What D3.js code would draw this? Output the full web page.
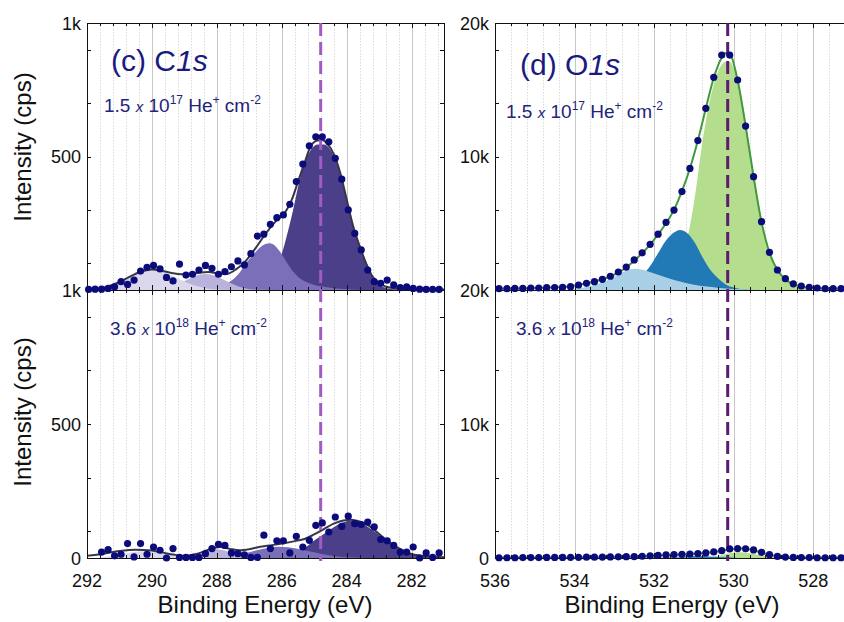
<!DOCTYPE html>
<html>
<head>
<meta charset="utf-8">
<script src="https://cdn.jsdelivr.net/npm/d3@7"></script>
<style>
  body { margin: 0; background: #fff; }
  text { font-family: Arial, "Liberation Sans", sans-serif; }
</style>
</head>
<body>
<svg id="chart" width="844" height="622"></svg>
<script>
// ---- data: [binding energy (eV), intensity (cps)] ----

// C1s, 1.5e17 He+/cm2
const c1sTopPoints = [[291.95,2],[291.75,3],[291.55,3],[291.35,6],[291.15,12],[290.95,31],[290.75,21],[290.55,37],[290.35,71],[290.15,85],[289.95,92],[289.75,79],[289.55,47],[289.35,34],[289.15,97],[288.95,56],[288.75,59],[288.55,75],[288.35,92],[288.15,81],[287.95,59],[287.75,69],[287.55,87],[287.35,109],[287.15,94],[286.95,136],[286.75,202],[286.55,209],[286.35,246],[286.15,271],[285.95,281],[285.75,321],[285.55,406],[285.35,472],[285.15,540],[284.95,574],[284.75,574],[284.55,555],[284.35,493],[284.15,415],[283.95,300],[283.75,212],[283.55,150],[283.35,75],[283.15,31],[282.95,25],[282.75,37],[282.55,19],[282.35,9],[282.15,12],[281.95,6],[281.75,3],[281.55,2],[281.35,2],[281.15,2]];
const c1sTopFit = [[292,2],[291.5,8],[291.0,30],[290.6,55],[290.3,70],[290.0,77],[289.7,72],[289.4,64],[289.1,59],[288.8,60],[288.5,66],[288.25,67],[288.0,63],[287.7,60],[287.4,78],[287.1,110],[286.8,158],[286.5,210],[286.2,255],[285.9,290],[285.7,335],[285.5,405],[285.3,475],[285.1,540],[284.9,560],[284.75,562],[284.6,548],[284.4,510],[284.2,440],[284.0,340],[283.8,240],[283.6,165],[283.4,100],[283.2,50],[283.0,25],[282.8,13],[282.5,6],[282.0,3],[281,2]];
const c1sTopPeakA = [[292.0,2],[291.75,5],[291.5,11],[291.25,20],[291.0,32],[290.75,46],[290.5,60],[290.25,71],[290.0,75],[289.75,71],[289.5,60],[289.25,46],[289.0,32],[288.75,20],[288.5,11],[288.25,5],[288.0,2],[287.5,0]];
const c1sTopPeakB = [[290.1,1],[289.85,2],[289.6,6],[289.35,14],[289.1,27],[288.85,42],[288.6,55],[288.35,60],[288.1,55],[287.85,42],[287.6,27],[287.35,14],[287.1,6],[286.85,2],[286.6,1],[286.3,0]];
const c1sTopPeakC = [[288.6,2],[288.2,6],[287.9,15],[287.6,31],[287.3,65],[287.1,100],[286.9,128],[286.7,156],[286.5,172],[286.37,175],[286.2,165],[286.05,143],[285.85,105],[285.65,69],[285.4,40],[285.15,25],[284.9,16],[284.7,12],[284.4,7],[284.0,3],[283.5,0]];
const c1sTopPeakD = [[287.0,3],[286.6,20],[286.3,75],[286.0,135],[285.85,200],[285.65,300],[285.45,410],[285.25,490],[285.1,525],[284.9,545],[284.7,545],[284.5,525],[284.33,481],[284.13,406],[283.92,293],[283.72,206],[283.52,143],[283.31,81],[283.1,31],[282.8,8],[282.5,2],[282.0,0]];

// C1s, 3.6e18 He+/cm2
const c1sBotPoints = [[291.55,22],[291.35,31],[291.15,8],[290.95,14],[290.75,54],[290.55,4],[290.35,54],[290.15,14],[289.95,41],[289.75,29],[289.55,0],[289.35,35],[289.15,2],[288.95,2],[288.75,2],[288.55,2],[288.35,16],[288.15,35],[287.95,51],[287.75,47],[287.55,19],[287.35,16],[287.15,12],[286.95,2],[286.75,2],[286.55,85],[286.35,35],[286.15,64],[285.95,64],[285.75,19],[285.55,81],[285.35,41],[285.15,66],[284.95,122],[284.75,131],[284.55,97],[284.35,153],[284.15,118],[283.95,156],[283.75,128],[283.55,125],[283.35,134],[283.15,116],[282.95,69],[282.75,64],[282.55,47],[282.35,22],[282.15,22],[281.95,41],[281.75,0],[281.55,19],[281.35,2],[281.15,19]];
const c1sBotFit = [[292,8],[291.5,16],[291.0,26],[290.5,31],[290.0,28],[289.7,21],[289.3,12],[288.95,8],[288.6,16],[288.2,33],[287.9,41],[287.6,34],[287.3,29],[287.0,33],[286.7,41],[286.3,48],[285.9,56],[285.6,63],[285.3,71],[285.0,88],[284.7,108],[284.4,128],[284.1,140],[283.85,143],[283.6,136],[283.33,122],[283.1,100],[282.82,72],[282.55,48],[282.31,31],[282.05,17],[281.8,10],[281.4,5],[281.0,3]];
const c1sBotPeakA = [[291.6,2],[291.2,8],[290.8,17],[290.4,24],[290.1,25],[289.8,20],[289.4,10],[289.0,3],[288.6,0]];
const c1sBotPeakB = [[289.1,1],[288.8,6],[288.5,16],[288.25,28],[288.0,33],[287.75,28],[287.5,16],[287.2,6],[286.9,1]];
const c1sBotPeakC = [[288.0,2],[287.6,7],[287.2,16],[286.8,28],[286.4,38],[286.1,42],[285.8,40],[285.4,32],[285.0,21],[284.6,11],[284.2,5],[283.8,2],[283.3,0]];
const c1sBotPeakD = [[286.2,2],[285.8,10],[285.5,24],[285.25,41],[285.0,65],[284.7,90],[284.4,115],[284.1,133],[283.85,140],[283.6,136],[283.4,120],[283.1,95],[282.8,68],[282.5,42],[282.2,22],[281.8,9],[281.2,2]];

// O1s, 1.5e17 He+/cm2
const o1sTopPoints = [[535.9,100],[535.7,100],[535.5,120],[535.3,120],[535.1,150],[534.9,150],[534.7,180],[534.5,180],[534.3,200],[534.1,250],[533.9,375],[533.7,500],[533.5,624],[533.3,800],[533.1,1030],[532.9,1350],[532.7,1720],[532.5,2250],[532.3,2780],[532.1,3420],[531.9,4180],[531.7,5070],[531.5,5990],[531.3,7370],[531.1,9110],[530.9,11190],[530.7,13610],[530.5,15930],[530.3,17600],[530.1,17600],[529.9,15730],[529.7,12280],[529.5,8490],[529.3,5120],[529.1,2820],[528.9,1500],[528.7,850],[528.5,460],[528.3,300],[528.1,200],[527.9,150],[527.7,100],[527.5,100],[527.3,100],[527.1,100]];
const o1sTopFit = [[536,100],[535,150],[534.5,200],[534.1,280],[533.7,500],[533.3,800],[532.9,1300],[532.5,2200],[532.1,3400],[531.7,5000],[531.5,6000],[531.3,7400],[531.1,9100],[530.9,11200],[530.7,13600],[530.5,15900],[530.3,17400],[530.2,17750],[530.1,17700],[529.9,15700],[529.7,12300],[529.5,8500],[529.3,5100],[529.1,2800],[528.9,1500],[528.7,800],[528.5,420],[528.3,250],[528,150],[527,100]];
const o1sTopLightBlue = [[534.4,0],[534.0,80],[533.6,300],[533.2,700],[532.9,1150],[532.6,1550],[532.45,1600],[532.2,1450],[531.9,1150],[531.6,850],[531.3,600],[531.0,400],[530.6,250],[530.2,120],[529.8,50],[529.4,0]];
const o1sTopDarkBlue = [[533.2,60],[532.9,200],[532.6,550],[532.3,1100],[532.1,1800],[531.9,2750],[531.7,3700],[531.5,4300],[531.35,4500],[531.2,4350],[531.0,3650],[530.8,2550],[530.6,1550],[530.4,900],[530.2,420],[530.0,180],[529.8,50],[529.5,0]];
const o1sTopGreen = [[532.2,100],[531.8,400],[531.5,1200],[531.3,2600],[531.1,4800],[530.95,7500],[530.8,10800],[530.6,14200],[530.4,16300],[530.2,17100],[530.1,17100],[529.95,16200],[529.8,14400],[529.6,10700],[529.4,6800],[529.2,3900],[529.0,2100],[528.8,1100],[528.6,550],[528.4,250],[528.2,100],[527.9,0]];

// O1s, 3.6e18 He+/cm2
const o1sBotPoints = [[535.9,20],[535.7,20],[535.5,20],[535.3,30],[535.1,30],[534.9,30],[534.7,40],[534.5,40],[534.3,40],[534.1,50],[533.9,50],[533.7,60],[533.5,60],[533.3,70],[533.1,80],[532.9,90],[532.7,100],[532.5,110],[532.3,130],[532.1,160],[531.9,200],[531.7,230],[531.5,260],[531.3,275],[531.1,300],[530.9,330],[530.7,380],[530.5,450],[530.3,550],[530.1,680],[529.9,700],[529.7,690],[529.5,600],[529.3,420],[529.1,250],[528.9,120],[528.7,70],[528.5,40],[528.3,30],[528.1,30],[527.9,20],[527.7,20],[527.5,20],[527.3,20],[527.1,20]];
const o1sBotFit = [[536,20],[534,40],[532.5,110],[531.5,250],[531,310],[530.5,450],[530.1,640],[529.8,700],[529.5,580],[529.2,320],[528.9,130],[528.5,40],[527,20]];
const o1sBotLightBlue = [[533.5,0],[532.8,40],[532.2,80],[531.6,60],[531.0,20],[530.5,0]];
const o1sBotDarkBlue = [[532.0,0],[531.5,80],[531.0,150],[530.6,120],[530.2,50],[529.9,0]];
const o1sBotGreen = [[530.8,0],[530.4,150],[530.1,350],[529.85,420],[529.6,350],[529.3,180],[529.0,50],[528.7,0]];

// ticks / labels
const cEnergyTicks = [292, 290, 288, 286, 284, 282];
const oEnergyTicks = [536, 534, 532, 530, 528];
const cIntTicks = [0, 500, 1000], cIntLabels = ["0", "500", "1k"];
const oIntTicks = [0, 10000, 20000], oIntLabels = ["0", "10k", "20k"];
const cMinorY = [100, 300, 500, 700, 900];
const oMinorY = [2000, 6000, 10000, 14000, 18000];
const cRefEnergy = 284.8, oRefEnergy = 530.15;

const cColors = ["#4b3f8a", "#7a6fb8", "#b9b2da", "#dbd7ec"];
const oColors = ["#b4de8e", "#2179b5", "#a8cfe5"];

// ---- layout ----
const svg = d3.select("#chart");
const navy = "#0b0b7a";

const xC = d3.scaleLinear().domain([292, 281]).range([87, 444]);
const xO = d3.scaleLinear().domain([536, 527]).range([495, 853]);
const yCTop = d3.scaleLinear().domain([0, 1000]).range([290, 23]);
const yCBot = d3.scaleLinear().domain([0, 1000]).range([558, 290]);
const yOTop = d3.scaleLinear().domain([0, 20000]).range([290, 23]);
const yOBot = d3.scaleLinear().domain([0, 20000]).range([558, 290]);

let clipId = 0;

function drawPanel(p) {
  const [xa, xb] = p.x.range(), [ya, yb] = p.y.range();
  const g = svg.append("g");
  const id = "clip" + (clipId++);
  svg.append("clipPath").attr("id", id).append("rect")
    .attr("x", xa).attr("y", yb).attr("width", xb - xa).attr("height", ya - yb);

  // vertical grid
  const lo = Math.ceil(p.x.domain()[1] * 10), hi = Math.floor(p.x.domain()[0] * 10);
  const grid = d3.range(lo, hi + 1).filter(v => v % 4 === 0).map(v => v / 10);
  g.append("g").attr("clip-path", `url(#${id})`)
    .selectAll("line").data(grid).enter().append("line")
    .attr("x1", d => Math.round(p.x(d)) + 0.5).attr("x2", d => Math.round(p.x(d)) + 0.5)
    .attr("y1", yb).attr("y2", ya)
    .attr("stroke", d => (Math.round(d * 10) % 20 === 0) ? "#c6c6c6" : "#dadada")
    .attr("stroke-dasharray", d => (Math.round(d * 10) % 20 === 0) ? null : "1.5,1.5")
    .attr("stroke-width", 1);

  // component fills
  const area = d3.area().curve(d3.curveMonotoneX)
    .x(d => p.x(d[0])).y0(p.y(0)).y1(d => p.y(d[1]));
  const fills = g.append("g").attr("clip-path", `url(#${id})`);
  p.comps.forEach((c, i) => {
    fills.append("path").datum(c).attr("d", area).attr("fill", p.colors[i]);
  });

  // envelope
  const line = d3.line().curve(d3.curveMonotoneX)
    .x(d => p.x(d[0])).y(d => p.y(d[1]));
  fills.append("path").datum(p.fit).attr("d", line)
    .attr("fill", "none").attr("stroke", p.fitColor).attr("stroke-width", 2);

  // frame
  g.append("rect").attr("x", xa + 0.5).attr("y", yb + 0.5)
    .attr("width", xb - xa).attr("height", ya - yb)
    .attr("fill", "none").attr("stroke", "#111").attr("stroke-width", 1);

  // inward ticks
  const ticks = g.append("g").attr("stroke", "#111").attr("stroke-width", 1);
  p.minorY.concat(p.yTicks).forEach(v => {
    const yy = Math.round(p.y(v)) + 0.5;
    ticks.append("line").attr("x1", xa).attr("x2", xa + 4).attr("y1", yy).attr("y2", yy);
    ticks.append("line").attr("x1", xb - 4).attr("x2", xb).attr("y1", yy).attr("y2", yy);
  });
  grid.forEach(v => {
    const xx = Math.round(p.x(v)) + 0.5;
    const len = (Math.round(v * 10) % 20 === 0) ? 5 : 3;
    ticks.append("line").attr("x1", xx).attr("x2", xx).attr("y1", ya).attr("y2", ya - len);
    ticks.append("line").attr("x1", xx).attr("x2", xx).attr("y1", yb).attr("y2", yb + len);
  });

  // y tick labels
  p.yTicks.forEach((v, i) => {
    if (p.skipZero && v === 0) return;
    g.append("text").attr("x", xa - 6).attr("y", p.y(v) + 6.5)
      .attr("text-anchor", "end").attr("font-size", 18).attr("fill", "#111")
      .text(p.yLabels[i]);
  });

  // x tick labels
  if (p.xLabels) {
    p.xLabels.forEach(v => {
      g.append("text").attr("x", p.x(v)).attr("y", 587)
        .attr("text-anchor", "middle").attr("font-size", 18).attr("fill", "#111")
        .text(v);
    });
  }
  p.g = g;
  return p;
}

function drawPoints(p) {
  svg.append("g").selectAll("circle").data(p.points).enter().append("circle")
    .attr("cx", d => p.x(d[0])).attr("cy", d => p.y(d[1]))
    .attr("r", 3.6).attr("fill", navy);
}

function doseLabel(x, y, mant, expo) {
  const t = svg.append("text").attr("x", x).attr("y", y)
    .attr("font-size", 19).attr("fill", "#23237a");
  t.append("tspan").text(mant + " ");
  t.append("tspan").attr("font-style", "italic").attr("font-size", 15).text("x");
  t.append("tspan").text(" 10");
  t.append("tspan").attr("font-size", 12).attr("dy", -8).text(expo);
  t.append("tspan").attr("dy", 8).text(" He");
  t.append("tspan").attr("font-size", 12).attr("dy", -8).text("+");
  t.append("tspan").attr("dy", 8).text(" cm");
  t.append("tspan").attr("font-size", 12).attr("dy", -8).text("-2");
}

function refLine(x, e, color) {
  svg.append("line")
    .attr("x1", x(e)).attr("x2", x(e)).attr("y1", 23).attr("y2", 561)
    .attr("stroke", color).attr("stroke-width", 3)
    .attr("stroke-dasharray", "13,6");
}

const panels = [
  { x: xC, y: yCTop, comps: [c1sTopPeakD, c1sTopPeakC, c1sTopPeakB, c1sTopPeakA], colors: cColors,
    fit: c1sTopFit, fitColor: "#3a3648", points: c1sTopPoints,
    yTicks: cIntTicks, yLabels: cIntLabels, minorY: cMinorY, skipZero: true },
  { x: xC, y: yCBot, comps: [c1sBotPeakD, c1sBotPeakC, c1sBotPeakB, c1sBotPeakA], colors: cColors,
    fit: c1sBotFit, fitColor: "#3a3648", points: c1sBotPoints,
    yTicks: cIntTicks, yLabels: cIntLabels, minorY: cMinorY, xLabels: cEnergyTicks },
  { x: xO, y: yOTop, comps: [o1sTopGreen, o1sTopDarkBlue, o1sTopLightBlue], colors: oColors,
    fit: o1sTopFit, fitColor: "#3f9a3c", points: o1sTopPoints,
    yTicks: oIntTicks, yLabels: oIntLabels, minorY: oMinorY, skipZero: true },
  { x: xO, y: yOBot, comps: [o1sBotGreen, o1sBotDarkBlue, o1sBotLightBlue], colors: oColors,
    fit: o1sBotFit, fitColor: "#3f9a3c", points: o1sBotPoints,
    yTicks: oIntTicks, yLabels: oIntLabels, minorY: oMinorY, xLabels: oEnergyTicks }
];

panels.forEach(drawPanel);
refLine(xC, cRefEnergy, "#a05cc2");
refLine(xO, oRefEnergy, "#5c1a70");
panels.forEach(drawPoints);

// titles
function title(x, y, head, tail) {
  const t = svg.append("text").attr("x", x).attr("y", y)
    .attr("font-size", 30).attr("fill", "#1a1a80");
  t.append("tspan").text(head);
  t.append("tspan").attr("font-style", "italic").text(tail);
}
title(111, 71, "(c) C", "1s");
title(520, 75, "(d) O", "1s");

doseLabel(104, 112, "1.5", "17");
doseLabel(506, 118, "1.5", "17");
doseLabel(110, 335, "3.6", "18");
doseLabel(516, 335, "3.6", "18");

// axis titles
[147, 412].forEach(cy => {
  svg.append("text").attr("transform", `translate(31,${cy}) rotate(-90)`)
    .attr("text-anchor", "middle").attr("font-size", 24).attr("fill", "#111")
    .text("Intensity (cps)");
});
svg.append("text").attr("x", 265).attr("y", 613).attr("text-anchor", "middle")
  .attr("font-size", 24).attr("fill", "#111").text("Binding Energy (eV)");
svg.append("text").attr("x", 672).attr("y", 613).attr("text-anchor", "middle")
  .attr("font-size", 24).attr("fill", "#111").text("Binding Energy (eV)");
</script>
</body>
</html>
